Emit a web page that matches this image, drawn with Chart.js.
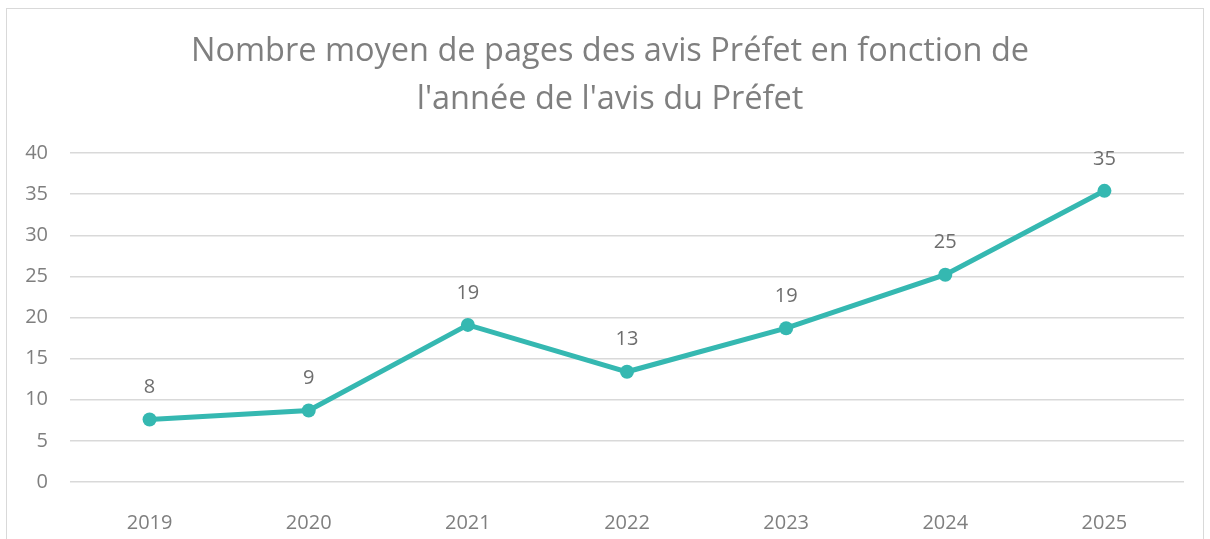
<!DOCTYPE html>
<html>
<head>
<meta charset="utf-8">
<script src="https://cdn.jsdelivr.net/npm/chart.js@4"></script>
<style>
  html, body { margin: 0; padding: 0; background: #fff; }
  #frame { position: absolute; left: 6px; top: 8px; width: 1196px; height: 540px; border: 1px solid #d9d9d9; }
  #wrap { position: absolute; left: 0; top: 0; width: 1210px; height: 539px; }
</style>
</head>
<body>
<div id="frame"></div>
<div id="wrap"><canvas id="pagesChart" width="1210" height="539"></canvas></div>
<script>
const YEARS = ['2019', '2020', '2021', '2022', '2023', '2024', '2025'];
const AVG_PAGES = [7.6, 8.7, 19.1, 13.4, 18.7, 25.2, 35.4];
const TITLE_LINES = ['Nombre moyen de pages des avis Préfet en fonction de', 'l\'année de l\'avis du Préfet'];

const FONT = '"Open Sans", sans-serif';
const LINE_COLOR = '#35b8b1';
const TEXT_GREY = '#7f7f7f';

// title centred on the frame rather than on the padded layout box
const frameTitle = {
  id: 'frameTitle',
  afterDraw(chart) {
    const ctx = chart.ctx;
    ctx.save();
    ctx.font = '32.5px ' + FONT;
    ctx.fillStyle = TEXT_GREY;
    ctx.textAlign = 'center';
    ctx.textBaseline = 'middle';
    TITLE_LINES.forEach((line, i) => ctx.fillText(line, 610, 52 + i * 48));
    ctx.restore();
  }
};

// simple value labels above each point
const pointLabels = {
  id: 'pointLabels',
  afterDatasetsDraw(chart) {
    const ctx = chart.ctx;
    const meta = chart.getDatasetMeta(0);
    ctx.save();
    ctx.font = '20px ' + FONT;
    ctx.fillStyle = '#6e6e6e';
    ctx.textAlign = 'center';
    ctx.textBaseline = 'middle';
    meta.data.forEach((pt, i) => {
      ctx.fillText(Math.round(AVG_PAGES[i]), pt.x, pt.y - 32);
    });
    ctx.restore();
  }
};

const config = {
  type: 'line',
  data: {
    labels: YEARS,
    datasets: [{
      data: AVG_PAGES,
      borderColor: LINE_COLOR,
      backgroundColor: LINE_COLOR,
      borderWidth: 5,
      pointRadius: 7,
      pointHoverRadius: 7,
      pointBorderWidth: 0,
      tension: 0
    }]
  },
  options: {
    responsive: false,
    animation: false,
    layout: { padding: { top: 153, right: 26, bottom: 0, left: 0 } },
    plugins: {
      legend: { display: false },
      tooltip: { enabled: false },
      title: { display: false }
    },
    scales: {
      x: {
        offset: true,
        grid: { display: false },
        border: { display: false },
        ticks: { color: TEXT_GREY, font: { family: FONT, size: 20 }, padding: 21 },
        afterFit: (s) => { s.height = 57; }
      },
      y: {
        min: 0,
        max: 40,
        ticks: { stepSize: 5, color: TEXT_GREY, font: { family: FONT, size: 20 }, padding: 22 },
        grid: { color: '#d9d9d9', lineWidth: 1.5, drawTicks: false },
        border: { display: false },
        afterFit: (s) => { s.width = 70; }
      }
    }
  },
  plugins: [pointLabels, frameTitle]
};

const chart = new Chart(document.getElementById('pagesChart'), config);
</script>
</body>
</html>
